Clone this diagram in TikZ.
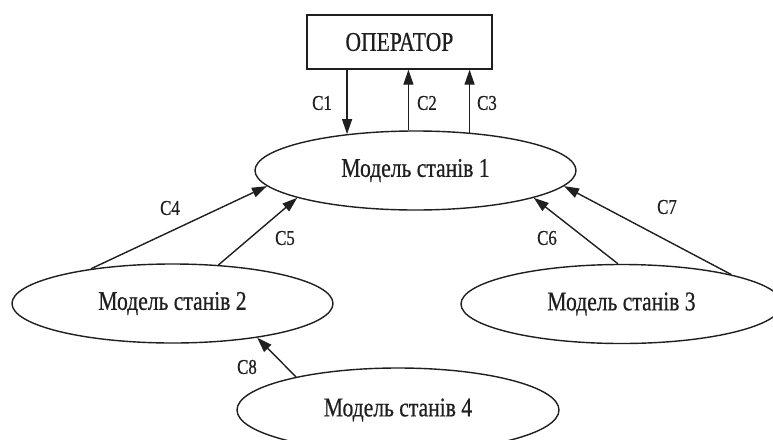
\documentclass[tikz,border=0pt]{standalone}
\usepackage{fontspec}
\setmainfont{Liberation Serif}[FakeStretch=0.8,FakeBold=0.6]
\usetikzlibrary{arrows.meta,shapes.geometric}
\definecolor{ink}{gray}{0.12}
\begin{document}
\begin{tikzpicture}[x=1pt,y=-1pt,
  state/.style={ellipse, draw=ink, line width=1.4pt, minimum width=321pt, minimum height=79pt, inner sep=0pt, text=ink, font=\fontsize{27}{28}\selectfont},
  opbox/.style={rectangle, draw=ink, line width=1.4pt, minimum width=185pt, minimum height=54pt, inner sep=0pt, text=ink, font=\fontsize{27}{28}\selectfont},
  arr/.style={draw=ink, line width=1.4pt, -{Triangle[length=15pt,width=10pt]}},
  lbl/.style={text=ink, inner sep=0pt, font=\fontsize{21}{22}\selectfont}]
\clip (0,0) rectangle (773,439);
\fill[white] (0,0) rectangle (773,439);
\node[opbox] (op) at (399.4,42) {ОПЕРАТОР};
\node[state] (m1) at (415.5,170.5) {Модель станів 1};
\node[state] (m2) at (172.5,303.5) {Модель станів 2};
\node[state] (m3) at (621.5,304) {Модель станів 3};
\node[state, minimum width=322pt, minimum height=84pt] (m4) at (398,410) {Модель станів 4};
\draw[arr] (op.south -| m1.152.9) -- (m1.152.9);
\draw[arr] (m1.100.8) -- (op.south -| m1.100.8);
\draw[arr] (m1.35.4) -- (op.south -| m1.35.4);
\draw[arr] (m2.157.3) -- (m1.186.7);
\draw[arr] (m2.40.2) -- (m1.193);
\draw[arr] (m3.95) -- (m1.347.8);
\draw[arr] (m3.15) -- (m1.354);
\draw[arr] (m4.162) -- (m2.338.5);
\node[lbl] (l1) at (322,103) {C1};
\node[lbl] (l2) at (427,103) {C2};
\node[lbl] (l3) at (487,103) {C3};
\node[lbl] (l4) at (170,208) {C4};
\node[lbl] (l5) at (285,238) {C5};
\node[lbl] (l6) at (547,238) {C6};
\node[lbl] (l7) at (667,207) {C7};
\node[lbl] (l8) at (247,367) {C8};
\end{tikzpicture}
\end{document}
